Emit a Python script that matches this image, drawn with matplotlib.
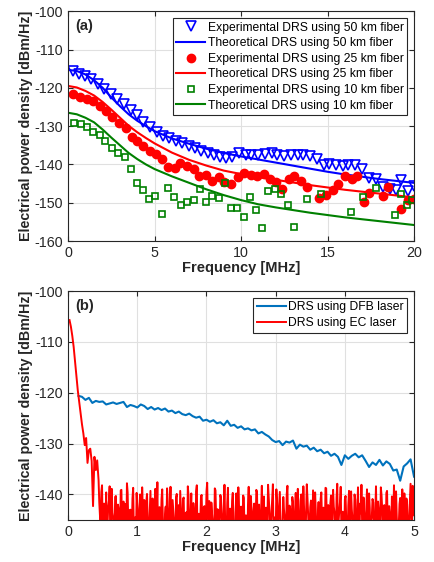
import matplotlib
matplotlib.use('Agg')
import matplotlib.pyplot as plt
import numpy as np

plt.rcParams['font.family'] = ['Liberation Sans', 'DejaVu Sans']
plt.rcParams['axes.unicode_minus'] = False

# ---- panel (a): experimental DRS points ----
f50 = [0.27, 0.64, 0.99, 1.34, 1.73, 2.08, 2.45, 2.84, 3.23, 3.61, 3.97, 4.35, 4.72,
       5.11, 5.48, 5.85, 6.22, 6.59, 6.96, 7.31, 7.70, 8.09, 8.44, 8.78, 9.14, 9.49,
       9.9, 10.3, 10.6, 11.0, 11.4, 11.8, 12.1, 12.5, 12.9, 13.3, 13.6, 14.0, 14.4,
       14.8, 15.1, 15.5, 15.9, 16.2, 16.6, 17.0, 17.4, 17.8, 18.2, 18.6, 18.97, 19.25,
       19.65, 20.0]
p50 = [-115.6, -116.3, -116.9, -117.7, -118.9, -120.2, -121.5, -122.8, -124.1, -125.7,
       -127.1, -128.9, -130.2, -131.5, -132.5, -133.2, -133.8, -134.5, -135.1, -135.8,
       -136.5, -137.1, -137.6, -138.0, -138.2, -138.0, -137.0, -137.4, -137.6, -137.4,
       -137.2, -137.0, -137.6, -137.8, -137.6, -137.5, -137.5, -137.7, -138.7, -140.1,
       -139.8, -140.1, -140.4, -140.1, -140.2, -141.3, -143.5, -143.7, -145.8, -146.5,
       -146.7, -144.1, -146.9, -145.6]

f25 = [0.29, 0.68, 1.07, 1.44, 1.83, 2.19, 2.56, 2.95, 3.32, 3.69, 4.0, 4.35, 4.74,
       5.07, 5.44, 5.77, 6.16, 6.49, 6.87, 7.26, 7.57, 7.96, 8.33, 8.72, 9.03, 9.44,
       9.81, 10.19, 10.58, 10.91, 11.30, 11.69, 12.02, 12.37, 12.76, 13.07, 13.48,
       13.82, 14.5, 14.9, 15.3, 15.6, 16.0, 16.4, 16.7, 17.1, 17.4, 18.2, 18.5, 19.26,
       19.65, 20.0]
p25 = [-121.7, -122.3, -122.9, -123.5, -124.8, -126.1, -127.6, -129.2, -130.5, -132.7,
       -134.0, -135.3, -136.5, -137.2, -138.7, -140.7, -140.9, -139.5, -140.4, -141.1,
       -142.9, -142.7, -144.4, -143.3, -144.6, -145.0, -143.3, -142.2, -142.7, -142.9,
       -142.4, -143.7, -144.6, -146.3, -143.9, -143.0, -144.4, -146.0, -148.7, -148.0,
       -146.6, -145.0, -143.0, -143.9, -143.0, -149.7, -147.4, -148.3, -146.0, -151.7,
       -149.3, -149.0]

f10 = [0.33, 0.72, 1.07, 1.44, 1.83, 2.14, 2.52, 2.89, 3.28, 3.63, 3.96, 4.35, 4.70,
       5.05, 5.44, 5.77, 6.12, 6.50, 6.87, 7.26, 7.61, 7.96, 8.33, 8.72, 9.07, 9.42,
       9.76, 10.15, 10.5, 10.88, 11.22, 11.55, 11.97, 12.3, 12.7, 13.04, 13.8, 14.6,
       16.35, 17.05, 17.8, 18.9, 19.27, 19.6, 19.9]
p10 = [-129.1, -129.5, -130.2, -131.4, -132.4, -134.0, -135.7, -137.0, -138.1, -141.1,
       -144.9, -146.6, -149.0, -148.1, -152.9, -146.2, -148.5, -150.5, -149.7, -149.4,
       -146.3, -149.7, -148.1, -148.8, -144.9, -151.3, -151.3, -153.7, -148.6, -151.9,
       -156.7, -147.0, -146.3, -147.7, -150.7, -156.2, -149.1, -147.7, -152.3, -148.4,
       -146.1, -153.2, -147.6, -150.6, -149.4]

# ---- panel (a): theoretical DRS curves ----
f_th = [0, 0.5, 1, 1.5, 2, 2.5, 3, 3.5, 4, 4.5, 5, 6, 7, 8, 9, 10, 11, 12, 13, 14, 15,
        16, 17, 18, 19, 20]
th50 = [-115.3, -115.6, -116.5, -118.0, -120.0, -122.5, -124.8, -126.9, -128.6, -130.0,
        -131.3, -133.2, -134.6, -135.9, -137.0, -137.9, -138.7, -139.5, -140.3, -141.1,
        -141.9, -142.6, -143.2, -143.8, -144.3, -144.8]
th25 = [-119.5, -119.9, -120.8, -122.0, -123.7, -125.7, -127.8, -129.9, -131.6, -133.1,
        -134.5, -136.9, -138.8, -140.3, -141.6, -142.5, -143.3, -144.0, -144.7, -145.4,
        -146.0, -146.6, -147.1, -147.6, -148.1, -148.6]
th10 = [-126.5, -126.9, -127.8, -129.0, -130.9, -133.0, -135.0, -137.0, -138.6, -140.0,
        -141.2, -143.1, -144.8, -146.5, -148.0, -149.3, -150.4, -151.2, -151.9, -152.6,
        -153.2, -153.8, -154.3, -154.8, -155.3, -155.8]

# ---- panel (b): DFB laser DRS ----
f_dfb = np.linspace(0.15, 5.0, 98)
dfb = [-120.6, -120.8, -121.4, -121.0, -122.0, -121.6, -121.8, -121.7, -122.3, -122.1,
       -121.9, -122.2, -122.0, -121.8, -122.8, -122.4, -122.6, -122.9, -122.3, -122.6,
       -123.2, -122.8, -123.3, -123.0, -123.4, -123.1, -123.7, -123.5, -124.0, -123.7,
       -124.2, -124.4, -124.1, -124.6, -124.9, -124.7, -125.5, -125.3, -125.7, -125.4,
       -126.0, -125.8, -126.4, -125.5, -126.5, -126.3, -126.9, -126.6, -127.2, -127.0,
       -127.4, -127.2, -128.0, -127.7, -128.2, -128.6, -129.3, -129.7, -129.5, -130.3,
       -129.6, -129.8, -129.4, -131.0, -130.2, -130.6, -130.4, -131.2, -130.8, -131.5,
       -131.2, -131.9, -131.6, -132.4, -132.0, -132.6, -134.2, -132.3, -133.0, -132.4,
       -132.0, -132.7, -132.3, -133.4, -134.6, -133.7, -134.2, -133.2, -134.3, -133.5,
       -134.0, -135.3, -135.1, -137.3, -134.5, -133.9, -133.1, -136.5]

# ---- panel (b): EC laser DRS ----
f_ec_decay = np.linspace(0.02, 0.44, 22)
ec_decay = [-105.7, -107.0, -108.8, -111.0, -113.8, -116.8, -119.6, -121.8, -124.0,
            -126.2, -128.0, -130.3, -128.9, -133.8, -131.3, -131.0, -133.4, -142.3,
            -132.6, -135.2, -133.3, -137.2]
ec_noise_a = [
    -141.5, -146.8, -138.2, -143.9, -148.1, -139.6, -145.7, -141.2, -149.3, -138.9, -144.6, -147.2,
    -140.3, -146.1, -142.8, -149.7, -139.1, -144.2, -148.6, -141.9, -137.8, -145.9, -143.1, -150.2,
    -140.8, -147.4, -144.5, -139.7, -148.9, -142.6, -146.3, -138.6, -145.1, -149.8, -141.4, -144.9,
    -147.6, -139.3, -143.7, -150.4, -142.1, -146.9, -137.6, -144.3, -148.2, -140.9, -145.6, -149.1,
    -142.4, -138.8, -146.5, -143.2, -149.6, -141.1, -145.3, -148.7, -139.9, -144.8, -147.9, -142.9,
    -150.1, -140.6, -145.8, -143.5, -138.4, -147.1, -144.1, -149.4, -141.7, -146.6, -139.4, -148.4,
    -143.8, -145.2, -140.1, -149.9, -142.3, -146.2, -137.7, -144.7, -148.8, -141.6, -145.4, -150.3,
    -139.2, -147.3, -143.4, -146.4, -140.7, -148.3, -142.7, -145.5, -149.2, -138.7, -144.4, -147.7,
    -141.3, -145.9, -150.6, -139.8, -146.7, -142.2, -148.5, -143.6, -140.2, -147.5, -144.1, -149.5,
    -138.5, -145.1, -142.5, -148.0, -141.8, -146.8, -139.5, -144.0, -150.0, -143.0, -147.8, -140.4,
    -145.0, -148.9, -138.1, -143.3, -146.0, -141.0, -149.0, -144.5, -139.0, -147.0, -142.0, -145.7,
    -150.5, -140.5, -144.6, -147.4, -138.3, -145.3, -142.9, -148.1, -141.5, -146.3, -139.7, -149.6,
    -143.9, -147.6, -140.0, -145.8, -142.4, -149.3, -138.0, -144.2, -146.9, -141.2, -148.7, -143.1,
    -139.6, -146.4, -144.8, -150.2, -140.9, -145.5, -142.6, -147.9, -138.8, -144.0, -149.1, -141.8,
    -146.2, -139.1, -143.6, -148.4, -137.9, -145.0, -141.4, -147.2, -143.4, -150.0, -140.3, -146.5,
    -142.2, -148.6, -139.4, -144.9, -147.1, -141.0, -145.6, -138.6, -149.4, -143.7, -146.0, -140.6,
    -148.2, -142.8, -145.2, -139.8, -150.4, -144.3, -141.6, -147.7, -138.4, -145.9, -143.0, -149.0,
    -140.1, -146.6, -142.1, -148.8, -139.3, -145.4, -143.8, -147.5, -141.1, -138.2, -146.8, -144.4,
    -149.7, -141.9, -145.1, -139.0, -147.3, -143.5, -140.8, -148.3, -144.7, -137.9, -146.1, -142.3]
ec_noise_b = [
    -144.1, -139.5, -147.9, -141.8, -145.4, -150.0, -142.3, -138.4, -146.2, -143.6, -149.2, -140.5,
    -147.5, -142.0, -145.3, -139.2, -148.0, -141.4, -144.7, -150.1, -139.6, -146.0, -143.0, -147.6,
    -138.7, -145.0, -149.5, -142.7, -146.4, -140.0, -148.4, -143.3, -141.1, -147.2, -139.9, -145.8,
    -143.2, -148.6, -140.8, -146.8, -138.9, -144.4, -149.9, -142.5, -146.5, -139.0, -147.0, -143.9,
    -146.1, -141.5, -149.3, -138.5, -145.6, -143.1, -147.3, -140.6, -148.1, -142.1, -139.3, -146.9,
    -141.0, -147.8, -143.7, -149.0, -140.2, -145.1, -139.8, -146.3, -143.4, -148.9, -138.2, -144.5,
    -148.3, -140.4, -146.7, -142.6, -147.7, -139.4, -144.9, -141.3, -149.6, -143.8, -146.6, -138.8,
    -145.2, -142.9, -148.7, -140.1, -144.0, -147.4, -138.1, -145.7, -141.7, -149.4, -142.8, -146.1,
    -139.7, -147.1, -143.5, -145.4, -138.6, -148.2, -142.4, -146.9, -140.7, -144.6, -150.2, -141.9,
    -146.4, -140.3, -148.5, -143.2, -145.9, -139.1, -147.6, -142.0, -144.3, -138.3, -146.7, -149.7,
    -142.6, -146.0, -140.9, -148.8, -143.6, -138.0, -145.5, -147.8, -141.6, -144.8, -139.5, -148.1,
    -145.3, -143.0, -147.2, -139.9, -149.1, -142.2, -146.5, -140.5, -148.0, -143.7, -145.9, -138.9,
    -147.0, -141.2, -144.4, -138.4, -146.8, -143.9, -140.8, -148.6, -142.5, -145.0, -139.2, -147.4,
    -143.4, -148.3, -141.5, -146.1, -139.6, -147.5, -144.2, -138.7, -145.6, -142.1, -149.8, -140.2,
    -144.7, -142.4, -149.0, -140.6, -146.9, -143.3, -138.5, -145.2, -147.9, -141.0, -144.9, -148.5,
    -139.3, -145.8, -142.9, -147.3, -140.0, -148.7, -143.1, -146.4, -141.8, -138.1, -147.1, -144.0,
    -146.3, -139.0, -147.6, -142.7, -145.1, -140.9, -149.3, -143.5, -146.0, -141.4, -148.2, -138.6,
    -143.0, -147.9, -144.6, -139.7, -146.6, -142.3, -148.4, -140.4, -145.3, -143.8, -139.4, -147.2,
    -145.5, -140.7, -148.9, -143.6, -139.8, -146.2, -142.0, -147.0, -141.2, -145.7, -138.3, -144.1]

ec_noise = np.column_stack([ec_noise_a, ec_noise_b]).ravel()
f_ec = np.concatenate([f_ec_decay, np.linspace(0.45, 5.0, len(ec_noise))])
ec = np.concatenate([ec_decay, ec_noise])

fig = plt.figure(figsize=(4.34, 5.62), dpi=100)
ax1 = fig.add_axes([0.157, 0.571, 0.797, 0.409])
ax2 = fig.add_axes([0.157, 0.075, 0.797, 0.407])

blue, red, green = '#0000FF', '#FF0000', '#008000'
ax1.plot(f50, p50, 'v', ls='none', mfc='none', mec=blue, ms=6.5, mew=1.2,
         label='Experimental DRS using 50 km fiber')
ax1.plot(f_th, th50, '-', color=blue, lw=1.5, label='Theoretical DRS using 50 km fiber')
ax1.plot(f25, p25, 'o', ls='none', mfc=red, mec=red, ms=6,
         label='Experimental DRS using 25 km fiber')
ax1.plot(f_th, th25, '-', color=red, lw=1.5, label='Theoretical DRS using 25 km fiber')
ax1.plot(f10, p10, 's', ls='none', mfc='none', mec=green, ms=4.8, mew=1.2,
         label='Experimental DRS using 10 km fiber')
ax1.plot(f_th, th10, '-', color=green, lw=1.5, label='Theoretical DRS using 10 km fiber')
ax1.set_xlim(0, 20)
ax1.set_ylim(-160, -100)
ax1.set_xticks([0, 5, 10, 15, 20])
ax1.set_yticks(np.arange(-160, -99, 10))
ax1.text(0.02, 0.965, '(a)', transform=ax1.transAxes, fontsize=10.5, fontweight='bold',
         va='top', ha='left', color='#262626')

ax2.plot(f_dfb, dfb, '-', color='#0072BD', lw=1.5, label='DRS using DFB laser')
ax2.plot(f_ec, ec, '-', color=red, lw=1.4, label='DRS using EC laser')
ax2.set_xlim(0, 5)
ax2.set_ylim(-145, -100)
ax2.set_xticks([0, 1, 2, 3, 4, 5])
ax2.set_yticks([-140, -130, -120, -110, -100])
ax2.text(0.02, 0.965, '(b)', transform=ax2.transAxes, fontsize=10.5, fontweight='bold',
         va='top', ha='left', color='#262626')

for ax in (ax1, ax2):
    ax.legend(loc='upper right', fontsize=8.7, handlelength=2.4, handletextpad=0.2,
              labelspacing=0.3, borderpad=0.3, fancybox=False, edgecolor='#262626',
              framealpha=1, borderaxespad=0.55)
    ax.legend_.get_frame().set_linewidth(0.8)
    ax.grid(True, color='#E0E0E0', lw=0.8)
    ax.set_axisbelow(True)
    ax.tick_params(direction='in', top=True, right=True, labelsize=10.3, length=3.5,
                   color='#262626', labelcolor='#262626')
    for s in ax.spines.values():
        s.set_color('#262626')
        s.set_linewidth(0.8)
    ax.set_xlabel('Frequency [MHz]', fontsize=10.5, fontweight='bold', color='#262626',
                  labelpad=1)
    ax.set_ylabel('Electrical power density [dBm/Hz]', fontsize=10.3, fontweight='bold',
                  color='#262626', labelpad=1)

fig.savefig('out.png', dpi=100)
